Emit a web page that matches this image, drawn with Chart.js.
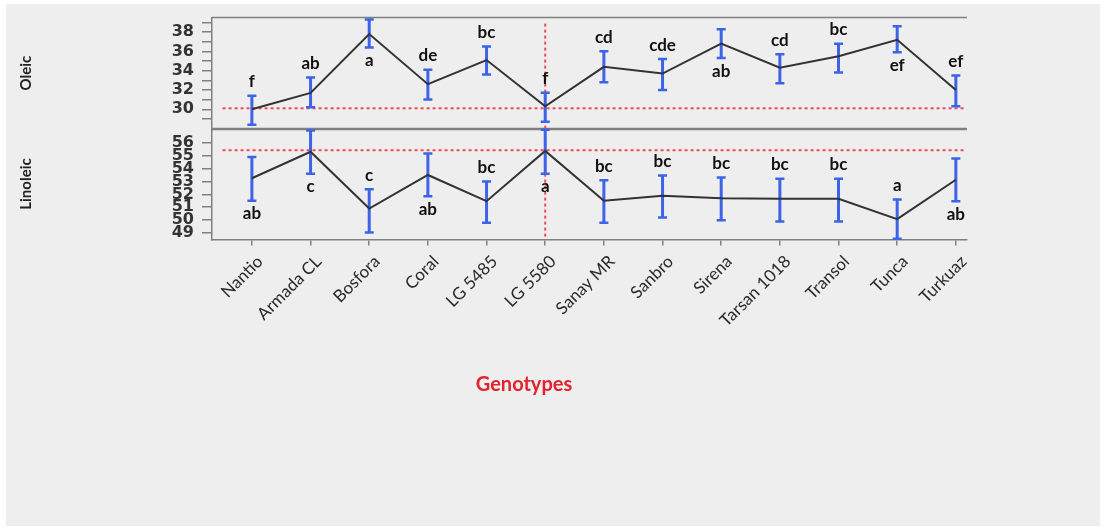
<!DOCTYPE html>
<html>
<head>
<meta charset="utf-8">
<script src="https://cdn.jsdelivr.net/npm/chart.js@4.4.1/dist/chart.umd.min.js"></script>
<style>
	html, body { margin: 0; padding: 0; background: #fff; }
	#wrap { position: relative; width: 1107px; height: 530px; }
	#bg { position: absolute; left: 6px; top: 4px; width: 1094px; height: 522px; background: #eeeeee; }
	canvas { position: absolute; left: 0; top: 0; }
</style>
</head>
<body>
<div id="wrap"><div id="bg"></div><canvas id="chartAcidos" width="1107" height="530"></canvas></div>
<script>
// Datos
const genotypes = ['Nantio', 'Armada CL', 'Bosfora', 'Coral', 'LG 5485', 'LG 5580', 'Sanay MR', 'Sanbro', 'Sirena', 'Tarsan 1018', 'Transol', 'Tunca', 'Turkuaz'];

const oleicMean = [30.0, 31.7, 37.8, 32.6, 35.1, 30.3, 34.4, 33.7, 36.8, 34.3, 35.5, 37.2, 32.0];
const oleicLow  = [28.4, 30.2, 36.4, 31.0, 33.6, 28.7, 32.8, 32.0, 35.3, 32.7, 33.8, 35.9, 30.3];
const oleicHigh = [31.4, 33.3, 39.3, 34.1, 36.5, 31.7, 36.0, 35.2, 38.3, 35.7, 36.8, 38.6, 33.5];
const oleicLetters = ['f', 'ab', 'a', 'de', 'bc', 'f', 'cd', 'cde', 'ab', 'cd', 'bc', 'ef', 'ef'];
const oleicLetterSide = ['up', 'up', 'down', 'up', 'up', 'up', 'up', 'up', 'down', 'up', 'up', 'down', 'up'];

const linoleicMean = [53.25, 55.3, 50.9, 53.5, 51.47, 55.37, 51.5, 51.9, 51.7, 51.65, 51.65, 50.08, 53.13];
const linoleicLow  = [51.5, 53.6, 49.05, 51.85, 49.8, 53.6, 49.8, 50.2, 50.0, 49.9, 49.9, 48.55, 51.47];
const linoleicHigh = [54.9, 56.95, 52.4, 55.16, 53.0, 57.0, 53.1, 53.46, 53.3, 53.2, 53.2, 51.6, 54.78];
const linoleicLetters = ['ab', 'c', 'c', 'ab', 'bc', 'a', 'bc', 'bc', 'bc', 'bc', 'bc', 'a', 'ab'];
const linoleicLetterSide = ['down', 'down', 'up', 'down', 'up', 'down', 'up', 'up', 'up', 'up', 'up', 'up', 'down'];

// reference (red dotted) lines
const oleicRef = 30.1;
const linoleicRef = 55.42;
const refGenotype = 5;

const oleicTicks = [29, 30, 31, 32, 33, 34, 35, 36, 37, 38, 39];
const linoleicTicks = [49, 50, 51, 52, 53, 54, 55, 56];

const RED = '#f24a5a';
const BLUE = '#3d63e8';
const AXIS = '#808080';

// frame lines, reference lines and error bars (under the mean lines)
const panelDeco = {
	id: 'panelDeco',
	beforeDatasetsDraw(chart) {
		const {ctx, chartArea, scales} = chart;
		const x = scales.x, yO = scales.yO, yL = scales.yL;
		ctx.save();

		ctx.strokeStyle = AXIS;
		ctx.lineWidth = 1.5;
		[yO.top, yO.bottom, yL.top + 1].forEach(y => {
			ctx.beginPath();
			ctx.moveTo(chartArea.left, y);
			ctx.lineTo(chartArea.right, y);
			ctx.stroke();
		});

		ctx.strokeStyle = RED;
		ctx.lineWidth = 2;
		ctx.setLineDash([3, 3]);
		[[yO, oleicRef], [yL, linoleicRef]].forEach(([s, v]) => {
			const py = s.getPixelForValue(v);
			ctx.beginPath();
			ctx.moveTo(x.getPixelForValue(-0.5), py);
			ctx.lineTo(chartArea.right - 2, py);
			ctx.stroke();
		});
		const px = x.getPixelForValue(refGenotype);
		ctx.beginPath();
		ctx.moveTo(px, yO.top + 6);
		ctx.lineTo(px, yL.bottom);
		ctx.stroke();
		ctx.setLineDash([]);

		ctx.strokeStyle = BLUE;
		[[yO, oleicLow, oleicHigh], [yL, linoleicLow, linoleicHigh]].forEach(([s, lo, hi]) => {
			lo.forEach((v, i) => {
				const cx = x.getPixelForValue(i);
				const y1 = s.getPixelForValue(v);
				const y2 = s.getPixelForValue(hi[i]);
				ctx.lineWidth = 3;
				ctx.beginPath();
				ctx.moveTo(cx, y1);
				ctx.lineTo(cx, y2);
				ctx.stroke();
				ctx.lineWidth = 2.5;
				ctx.beginPath();
				ctx.moveTo(cx - 4.5, y1); ctx.lineTo(cx + 4.5, y1);
				ctx.moveTo(cx - 4.5, y2); ctx.lineTo(cx + 4.5, y2);
				ctx.stroke();
			});
		});
		ctx.restore();
	},
	afterDatasetsDraw(chart) {
		const {ctx, scales} = chart;
		const x = scales.x;
		ctx.save();
		ctx.fillStyle = '#111';
		ctx.font = 'bold 17px Lato';
		ctx.textAlign = 'center';
		ctx.textBaseline = 'middle';
		[[scales.yO, oleicLetters, oleicLetterSide, oleicLow, oleicHigh],
		 [scales.yL, linoleicLetters, linoleicLetterSide, linoleicLow, linoleicHigh]].forEach(([s, letters, side, lo, hi]) => {
			letters.forEach((t, i) => {
				const y = side[i] === 'up' ? s.getPixelForValue(hi[i]) - 14 : s.getPixelForValue(lo[i]) + 13;
				ctx.fillText(t, x.getPixelForValue(i), y);
			});
		});
		// x axis title
		ctx.fillStyle = '#e3222d';
		ctx.font = 'bold 20px Lato';
		ctx.fillText('Genotypes', 524, 385);
		ctx.restore();
	}
};

const tickFont = {family: 'DejaVu Sans', weight: 'bold', size: 16};
const titleFont = {family: 'Lato', weight: 'bold', size: 15};

// @ts-expect-error
const chartAcidos = new Chart(
	document.getElementById('chartAcidos'),
	{
		type: 'line',
		data: {
			datasets: [{
				yAxisID: 'yO',
				data: oleicMean.map((v, i) => ({x: i, y: v})),
				borderColor: '#333',
				borderWidth: 2,
				pointRadius: 0,
			}, {
				yAxisID: 'yL',
				data: linoleicMean.map((v, i) => ({x: i, y: v})),
				borderColor: '#333',
				borderWidth: 2,
				pointRadius: 0,
			}]
		},
		options: {
			responsive: false,
			animation: false,
			devicePixelRatio: 1,
			layout: {padding: {left: 10, top: 12, right: 140, bottom: 190.5}},
			plugins: {
				legend: {display: false},
				tooltip: {enabled: false}
			},
			scales: {
				x: {
					type: 'linear',
					min: -0.68,
					max: 12.19,
					afterBuildTicks: s => { s.ticks = genotypes.map((g, i) => ({value: i})); },
					afterFit: s => { s.height = 100; },
					grid: {drawOnChartArea: false, tickLength: 6, color: AXIS, lineWidth: 1.5},
					border: {color: AXIS, width: 1.5},
					ticks: {
						autoSkip: false,
						minRotation: 45,
						maxRotation: 45,
						padding: 6,
						labelOffset: 8,
						color: '#2a2a2a',
						font: {family: 'Lato', size: 17},
						callback: v => genotypes[v]
					}
				},
				yL: {
					type: 'linear',
					position: 'left',
					stack: 'panels',
					stackWeight: 1,
					min: 48.5,
					max: 57.1,
					afterBuildTicks: s => { s.ticks = linoleicTicks.map(v => ({value: v})); },
					afterFit: s => { s.width = 202; },
					grid: {drawOnChartArea: false, tickLength: 10, color: AXIS, lineWidth: 1.5},
					border: {color: AXIS, width: 1.5},
					ticks: {autoSkip: false, padding: 8, color: '#333', font: tickFont},
					title: {display: true, text: 'Linoleic', color: '#222', font: titleFont, padding: {top: 7, bottom: 0}}
				},
				yO: {
					type: 'linear',
					position: 'left',
					stack: 'panels',
					stackWeight: 1,
					min: 28,
					max: 39.5,
					afterBuildTicks: s => { s.ticks = oleicTicks.map(v => ({value: v})); },
					afterFit: s => { s.width = 202; },
					grid: {drawOnChartArea: false, tickLength: 10, color: AXIS, lineWidth: 1.5},
					border: {color: AXIS, width: 1.5},
					ticks: {autoSkip: false, padding: 8, color: '#333', font: tickFont, callback: v => v % 2 === 0 ? v : ''},
					title: {display: true, text: 'Oleic', color: '#222', font: titleFont, padding: {top: 7, bottom: 0}}
				}
			}
		},
		plugins: [panelDeco]
	}
);
</script>
</body>
</html>
